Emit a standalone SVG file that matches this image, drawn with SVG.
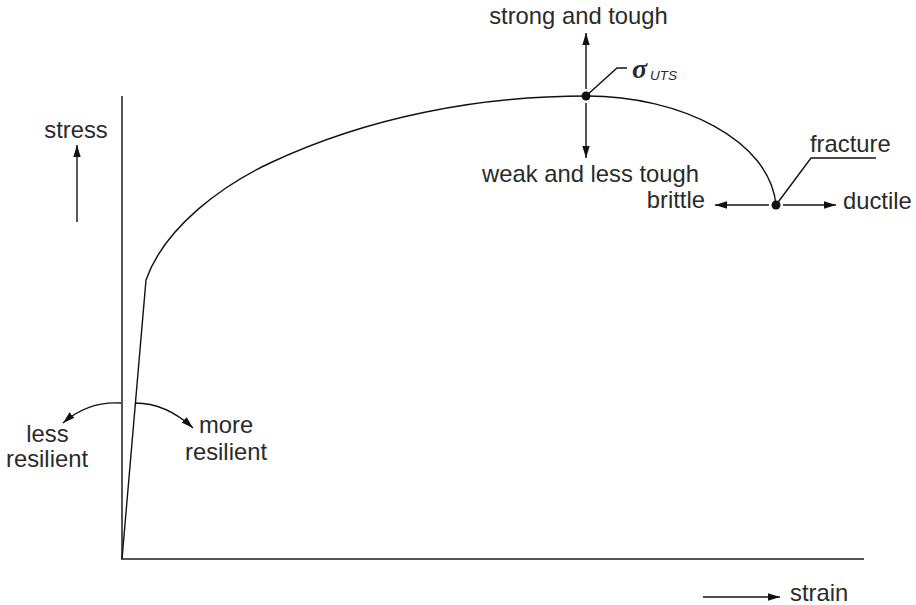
<svg xmlns="http://www.w3.org/2000/svg" width="916" height="605" viewBox="0 0 916 605">
<style>
text{font-family:"Liberation Sans",Arial,sans-serif;font-size:23.8px;fill:#2a2a2a}
.axis{stroke:#555;stroke-width:2;fill:none}
.ln{stroke:#111;stroke-width:1.4;fill:none}
.arr{stroke:#111;stroke-width:1.4;fill:none;marker-end:url(#ah)}
.dot{fill:#111}
</style>
<defs>
<marker id="ah" markerUnits="userSpaceOnUse" markerWidth="13" markerHeight="10" viewBox="0 0 13 10" refX="12" refY="5" orient="auto">
<path d="M0,1.3 L12,5 L0,8.7 Z" fill="#111"/>
</marker>
</defs>
<rect width="916" height="605" fill="#fff"/>
<g id="axes">
<path class="axis" d="M122,96 L122,559 L864,559"/>
</g>
<g id="curve">
<path class="ln" d="M122,559 L146,280 C165,226 225,184 270,163 C368,117 479,96 587,96 C680,96 770,140 776,205"/>
</g>
<g id="connectors">
<line class="arr" x1="77" y1="222" x2="77" y2="145"/>
<line class="arr" x1="703" y1="597" x2="780" y2="597"/>
<line class="arr" x1="586" y1="89" x2="586" y2="33"/>
<line class="arr" x1="586" y1="103" x2="586" y2="158"/>
<line class="arr" x1="769" y1="205" x2="715" y2="205"/>
<line class="arr" x1="783" y1="205" x2="836" y2="205"/>
<path class="ln" d="M586,96 L617,68 L627,68"/>
<path class="ln" d="M776,205 L811,158 L876,158"/>
<path class="arr" d="M121,403 Q88,401 63,423"/>
<path class="arr" d="M135,403 Q166,403 193,428"/>
</g>
<g id="uts">
<circle class="dot" cx="586" cy="96" r="4.5"/>
<text x="632" y="78" style="font-family:'Liberation Serif',serif;font-style:italic;font-weight:bold;font-size:28px">σ</text>
<text x="650" y="80" style="font-style:italic;font-size:13.5px">UTS</text>
</g>
<g id="fracture">
<circle class="dot" cx="776" cy="205" r="4.5"/>
<text x="810" y="152">fracture</text>
</g>
<g id="labels">
<text x="76" y="138" text-anchor="middle">stress</text>
<text x="790" y="601">strain</text>
<text x="578.5" y="24" text-anchor="middle">strong and tough</text>
<text x="590.5" y="182" text-anchor="middle">weak and less tough</text>
<text x="705" y="208" text-anchor="end">brittle</text>
<text x="843" y="209">ductile</text>
<text x="47.5" y="442" text-anchor="middle">less</text>
<text x="47" y="467" text-anchor="middle">resilient</text>
<text x="199" y="433">more</text>
<text x="185" y="460">resilient</text>
</g>
</svg>
